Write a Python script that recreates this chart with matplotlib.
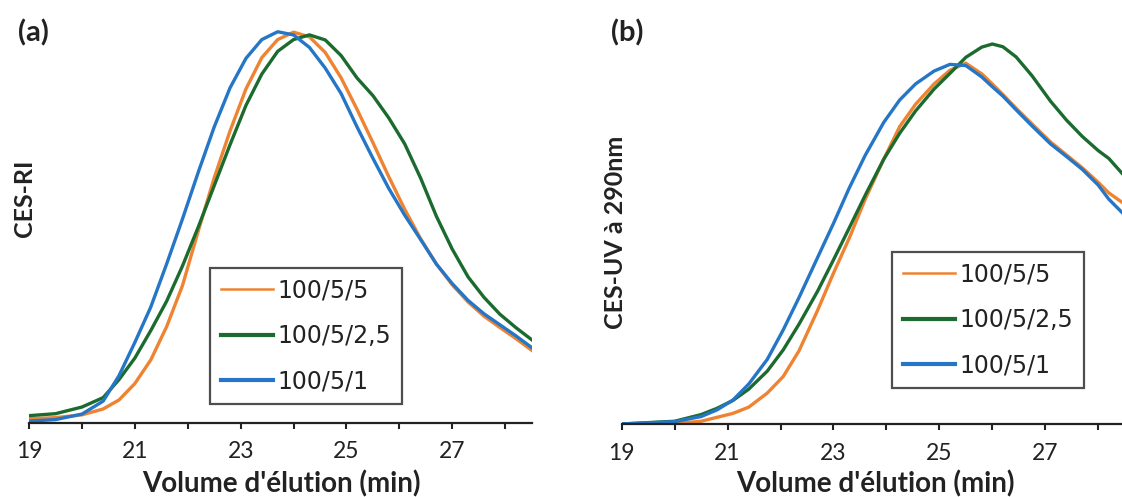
import numpy as np
import matplotlib.pyplot as plt

plt.rcParams['font.family'] = ['Lato', 'DejaVu Sans']

# (a) CES-RI signal vs elution volume (min)
vol_a = [19.0, 19.5, 20.0, 20.4, 20.7, 21.0, 21.3, 21.6, 21.9, 22.2, 22.5, 22.8,
         23.1, 23.4, 23.7, 24.0, 24.3, 24.6, 24.9, 25.2, 25.5, 25.8, 26.1, 26.4,
         26.7, 27.0, 27.3, 27.6, 27.9, 28.2, 28.5]
ri_5 = [0.010, 0.013, 0.020, 0.035, 0.058, 0.100, 0.160, 0.245, 0.350, 0.490,
        0.625, 0.745, 0.852, 0.932, 0.978, 0.997, 0.985, 0.945, 0.880, 0.800,
        0.715, 0.628, 0.545, 0.470, 0.405, 0.352, 0.308, 0.272, 0.243, 0.215, 0.185]
ri_25 = [0.018, 0.023, 0.040, 0.064, 0.110, 0.165, 0.235, 0.310, 0.400, 0.500,
         0.605, 0.710, 0.810, 0.890, 0.948, 0.978, 0.990, 0.977, 0.937, 0.880,
         0.835, 0.778, 0.712, 0.625, 0.527, 0.443, 0.372, 0.320, 0.277, 0.243, 0.212]
ri_1 = [0.004, 0.008, 0.022, 0.055, 0.120, 0.205, 0.295, 0.405, 0.520, 0.640,
        0.755, 0.855, 0.930, 0.978, 0.998, 0.990, 0.958, 0.905, 0.840, 0.755,
        0.675, 0.598, 0.530, 0.468, 0.405, 0.355, 0.312, 0.278, 0.250, 0.222, 0.192]

# (b) CES-UV 290nm signal
vol_b = [19.0, 20.0, 20.5, 20.8, 21.1, 21.4, 21.75, 22.05, 22.35, 22.7, 23.0, 23.3,
         23.6, 23.95, 24.25, 24.55, 24.9, 25.2, 25.5, 25.8, 26.0, 26.2, 26.45, 26.75,
         27.1, 27.4, 27.7, 28.0, 28.2, 28.45]
uv_5 = [0.000, 0.001, 0.007, 0.017, 0.027, 0.043, 0.079, 0.121, 0.187, 0.290,
        0.385, 0.475, 0.574, 0.676, 0.759, 0.816, 0.868, 0.903, 0.921, 0.894,
        0.868, 0.841, 0.806, 0.766, 0.720, 0.687, 0.654, 0.617, 0.590, 0.566]
uv_25 = [0.000, 0.007, 0.024, 0.040, 0.060, 0.089, 0.135, 0.189, 0.255, 0.339,
         0.419, 0.501, 0.584, 0.676, 0.742, 0.799, 0.855, 0.895, 0.936, 0.962,
         0.970, 0.963, 0.937, 0.889, 0.824, 0.776, 0.734, 0.698, 0.678, 0.640]
uv_1 = [0.000, 0.006, 0.019, 0.036, 0.061, 0.102, 0.165, 0.240, 0.323, 0.425,
        0.512, 0.603, 0.686, 0.770, 0.827, 0.868, 0.901, 0.918, 0.915, 0.886,
        0.861, 0.837, 0.802, 0.761, 0.715, 0.683, 0.650, 0.610, 0.574, 0.540]

labels = ['100/5/5', '100/5/2,5', '100/5/1']
colors = ['#EE8432', '#1B6B2F', '#2576C6']

fig = plt.figure(figsize=(11.22, 4.97), dpi=100)
ax1 = fig.add_axes([0.0259, 0.1495, 0.4479, 0.8276])
ax2 = fig.add_axes([0.5541, 0.1469, 0.4459, 0.8276])

panels = [(ax1, vol_a, [ri_5, ri_25, ri_1], 'CES-RI', '(a)', 28.5,
           (0.1872, 0.4608), (0.0214, 0.600), 0.016, 0.2505),
          (ax2, vol_b, [uv_5, uv_25, uv_1], 'CES-UV à 290nm', '(b)', 28.45,
           (0.795, 0.493), (0.549, 0.533), 0.545, 0.7806)]

for ax, x, series, ylab, tag, xmax, leg_xy, ylab_xy, tag_x, xlab_x in panels:
    for y, lab, c in zip(series, labels, colors):
        ax.plot(x, y, color=c, lw=2.4, label=lab)
    ax.set_xlim(19, xmax)
    ax.set_ylim(0, 1.05)
    ax.set_xticks(np.arange(19, 29, 1))
    ax.set_xticklabels([str(v) if v % 2 == 1 else '' for v in range(19, 29)])
    ax.tick_params(axis='x', direction='out', length=4.5, width=1.5,
                   labelsize=16.5, pad=9, colors='#222222')
    ax.set_yticks([])
    for s in ['left', 'right', 'top']:
        ax.spines[s].set_visible(False)
    ax.spines['bottom'].set_linewidth(1.6)
    ax.spines['bottom'].set_color('#222222')
    fig.text(xlab_x, 0.010, "Volume d'élution (min)", fontsize=20,
             fontweight='bold', ha='center', va='baseline', color='#222222')
    fig.text(ylab_xy[0], ylab_xy[1], ylab, rotation=90, fontsize=18,
             fontweight='bold', ha='center', va='center', color='#222222')
    fig.text(tag_x, 0.962, tag, fontsize=21, fontweight='bold', va='top',
             color='#222222')
    leg = ax.legend(loc='upper left', bbox_to_anchor=leg_xy,
                    bbox_transform=fig.transFigure, borderaxespad=0,
                    frameon=True, fancybox=False, edgecolor='#222222',
                    handlelength=2.2, handletextpad=0.2, labelspacing=0.9,
                    borderpad=0.45, prop={'family': 'DejaVu Sans', 'size': 17})
    leg.get_frame().set_linewidth(1.6)
    leg.get_lines()[0].set_linewidth(1.8)
    for ln in leg.get_lines()[1:]:
        ln.set_linewidth(3.0)
    for t in leg.get_texts():
        t.set_color('#222222')

fig.savefig('out.png', dpi=100)
